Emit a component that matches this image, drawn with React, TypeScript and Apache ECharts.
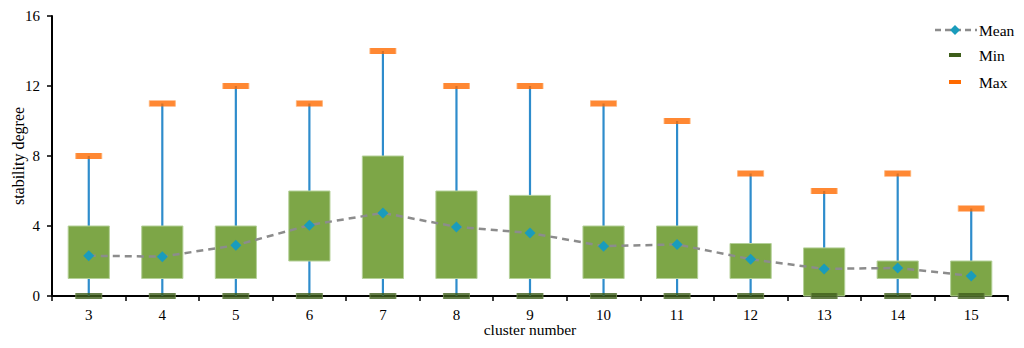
import React, { useEffect, useRef } from "react";
import * as echarts from "echarts";

const categories = ["3", "4", "5", "6", "7", "8", "9", "10", "11", "12", "13", "14", "15"];
const q1Values = [1, 1, 1, 2, 1, 1, 1, 1, 1, 1, 0, 1, 0];
const q3Values = [4, 4, 4, 6, 8, 6, 5.75, 4, 4, 3, 2.75, 2, 2];
const meanValues = [2.3, 2.25, 2.9, 4.05, 4.75, 3.95, 3.6, 2.85, 2.95, 2.1, 1.55, 1.6, 1.15];
const minValues = [0, 0, 0, 0, 0, 0, 0, 0, 0, 0, 0, 0, 0];
const maxValues = [8, 11, 12, 11, 14, 12, 12, 11, 10, 7, 6, 7, 5];
const yTicks = { min: 0, max: 16, interval: 4 };

const FONT = "Liberation Serif";

export default function App() {
  const ref = useRef<HTMLDivElement>(null);
  useEffect(() => {
    if (!ref.current) return;
    const chart = echarts.init(ref.current, null, { renderer: "svg" });
    const boxData = categories.map((_, i) => [i, minValues[i], q1Values[i], q3Values[i], maxValues[i]]);
    chart.setOption({
      animation: false,
      grid: { left: 52, right: 16, top: 16, bottom: 52, containLabel: false, outerBoundsMode: "none" },
      xAxis: {
        type: "category",
        data: categories,
        boundaryGap: true,
        name: "cluster number",
        nameLocation: "middle",
        nameGap: 25,
        nameMoveOverlap: false,
        nameTextStyle: { fontFamily: FONT, fontSize: 15.5, color: "#000" },
        axisLine: { lineStyle: { color: "#000", width: 2 } },
        axisTick: { show: true, length: 5, lineStyle: { color: "#000", width: 1.5 } },
        axisLabel: { fontFamily: FONT, fontSize: 15, color: "#000", margin: 11 },
        splitLine: { show: false },
      },
      yAxis: {
        type: "value",
        min: yTicks.min,
        max: yTicks.max,
        interval: yTicks.interval,
        name: "stability degree",
        nameLocation: "middle",
        nameGap: 26,
        nameMoveOverlap: false,
        nameTextStyle: { fontFamily: FONT, fontSize: 16, color: "#000" },
        axisLine: { show: true, lineStyle: { color: "#000", width: 2 } },
        axisTick: { show: true, length: 5, lineStyle: { color: "#000", width: 1.5 } },
        axisLabel: { fontFamily: FONT, fontSize: 15, color: "#000", margin: 12 },
        splitLine: { show: false },
      },
      series: [
        {
          type: "custom",
          name: "Box",
          data: boxData,
          encode: { x: 0, y: [1, 2, 3, 4] },
          z: 2,
          renderItem: (params: any, api: any) => {
            const idx = api.value(0);
            const lo = api.coord([idx, api.value(1)]);
            const q1 = api.coord([idx, api.value(2)]);
            const q3 = api.coord([idx, api.value(3)]);
            const hi = api.coord([idx, api.value(4)]);
            const bw = api.size([1, 0])[0] * 0.56;
            return {
              type: "group",
              children: [
                {
                  type: "line",
                  shape: { x1: lo[0], y1: lo[1], x2: hi[0], y2: hi[1] },
                  style: { stroke: "#2e8ccc", lineWidth: 2.2 },
                },
                {
                  type: "rect",
                  shape: { x: q3[0] - bw / 2, y: q3[1], width: bw, height: q1[1] - q3[1] },
                  style: { fill: "#7da647", stroke: "#b4d098", lineWidth: 1 },
                },
              ],
            };
          },
        },
        {
          type: "line",
          name: "Mean",
          data: meanValues,
          z: 4,
          symbol: "diamond",
          symbolSize: 11,
          itemStyle: { color: "#1a9cbc" },
          lineStyle: { color: "#8c8c8c", width: 2.5, type: [7, 5] },
        },
        {
          type: "scatter",
          name: "Min",
          data: minValues,
          z: 5,
          symbol: "rect",
          symbolSize: [26, 6],
          itemStyle: { color: "#3e5e1b", borderColor: "#6f8a4f", borderWidth: 0.5 },
        },
        {
          type: "scatter",
          name: "Max",
          data: maxValues,
          z: 5,
          symbol: "rect",
          symbolSize: [26, 6],
          itemStyle: { color: "#ff6a00", borderColor: "#ffb070", borderWidth: 0.5 },
        },
      ],
      graphic: [
        { type: "line", shape: { x1: 935, y1: 30, x2: 977, y2: 30 }, style: { stroke: "#8c8c8c", lineWidth: 2.5, lineDash: [6, 4] } },
        { type: "polygon", shape: { points: [[955, 25], [960, 30], [955, 35], [950, 30]] }, style: { fill: "#1a9cbc" } },
        { type: "text", x: 979, y: 30, style: { text: "Mean", font: `15.5px '${FONT}'`, fill: "#000", verticalAlign: "middle" } },
        { type: "rect", shape: { x: 949, y: 53, width: 12, height: 4 }, style: { fill: "#3e5e1b" } },
        { type: "text", x: 979, y: 55, style: { text: "Min", font: `15.5px '${FONT}'`, fill: "#000", verticalAlign: "middle" } },
        { type: "rect", shape: { x: 949, y: 80, width: 12, height: 4 }, style: { fill: "#ff6a00" } },
        { type: "text", x: 979, y: 82, style: { text: "Max", font: `15.5px '${FONT}'`, fill: "#000", verticalAlign: "middle" } },
      ],
    });
    return () => chart.dispose();
  }, []);
  return <div ref={ref} style={{ width: 1024, height: 348, position: "absolute", left: 0, top: 0, background: "#fff" }} />;
}
